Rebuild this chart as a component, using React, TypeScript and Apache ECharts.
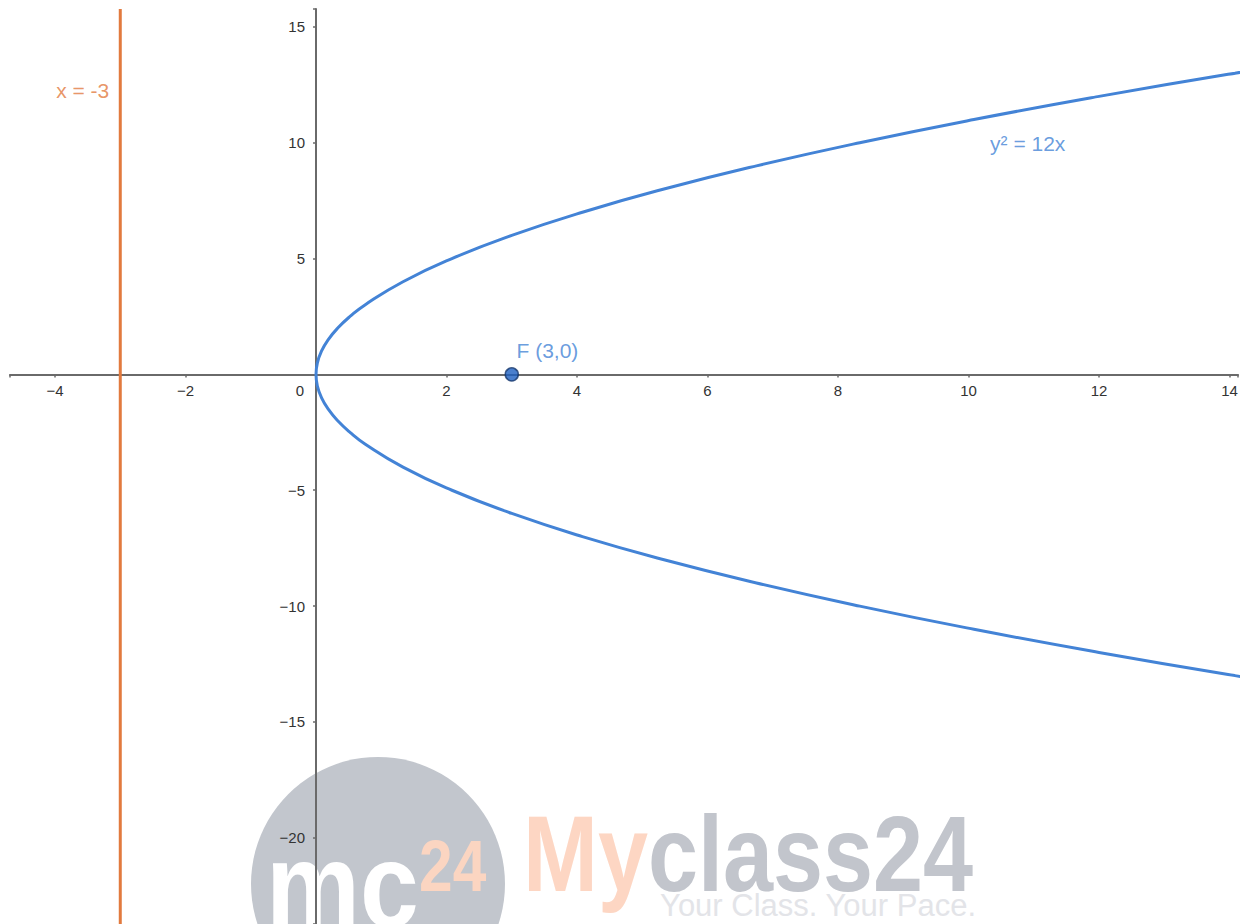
import React, { useEffect, useRef } from "react";
import * as echarts from "echarts";

// Axis extents
const xMin = -4.69;
const xMax = 14.13;
const yMin = -23.72;
const yMax = 15.77;
const xStep = 2;
const yStep = 5;

// Parabola y² = 12x read as points (x, y)
const parabolaX = [16.333, 14.083, 12, 10.083, 8.333, 6.75, 5.333, 4.083, 3, 2.083, 1.333, 0.75, 0.521, 0.333, 0.1875, 0.0833, 0.0208, 0, 0.0208, 0.0833, 0.1875, 0.333, 0.521, 0.75, 1.333, 2.083, 3, 4.083, 5.333, 6.75, 8.333, 10.083, 12, 14.083, 16.333];
const parabolaY = [-14, -13, -12, -11, -10, -9, -8, -7, -6, -5, -4, -3, -2.5, -2, -1.5, -1, -0.5, 0, 0.5, 1, 1.5, 2, 2.5, 3, 4, 5, 6, 7, 8, 9, 10, 11, 12, 13, 14];

// Directrix x = -3
const directrixX = [-3, -3];
const directrixY = [yMin, yMax];

// Focus
const focus = [3, 0];

// Annotation texts and anchors (data coordinates)
const directrixText = "x = -3";
const directrixAnchor = [-3, 12.27];
const curveText = "y² = 12x";
const curveAnchor = [10.33, 9.98];
const focusText = "F (3,0)";

const BLUE = "#4383d6";
const ORANGE = "#e27a3e";
const AXIS = "#6a6a6a";
const LABEL = "#333333";
const FONT = "Liberation Sans, Arial, sans-serif";
const WFONT = "Liberation Sans, Arial, sans-serif";

const W = 1248;
const H = 924;
const G = { left: 10, right: 10, top: 9, bottom: 0 };

const fmtNum = (v: number) => (v < 0 ? "\u2212" + Math.abs(v) : String(v));

export default function App() {
  const ref = useRef<HTMLDivElement>(null);
  useEffect(() => {
    if (!ref.current) return;
    const chart = echarts.init(ref.current, null, { renderer: "svg" });
    const curveData = parabolaX.map((x, i) => [x, parabolaY[i]]);
    const directrixData = directrixX.map((x, i) => [x, directrixY[i]]);
    const gw = W - G.left - G.right;
    const gh = H - G.top - G.bottom;
    // place the axes through the origin
    const yAxisOffset = -((0 - xMin) / (xMax - xMin)) * gw;
    const xAxisOffset = -((0 - yMin) / (yMax - yMin)) * gh;
    chart.setOption({
      animation: false,
      backgroundColor: "#ffffff",
      grid: { ...G, containLabel: false, outerBoundsMode: "none" },
      xAxis: {
        type: "value",
        position: "bottom",
        offset: xAxisOffset,
        min: xMin,
        max: xMax,
        minInterval: xStep,
        maxInterval: xStep,
        splitLine: { show: false },
        axisLine: { show: true, onZero: false, lineStyle: { color: AXIS, width: 2 } },
        axisTick: { show: true, length: 3, lineStyle: { color: AXIS, width: 1.5 } },
        axisLabel: {
          margin: 9,
          color: LABEL,
          fontSize: 15,
          fontFamily: FONT,
          formatter: (v: number) => {
            if (Math.abs(v / xStep - Math.round(v / xStep)) > 1e-6) return "";
            if (Math.abs(v) < 1e-9) return "{z|0}";
            return fmtNum(v);
          },
          rich: { z: { fontSize: 15, fontFamily: FONT, color: LABEL, padding: [0, 32, 0, 0] } },
        },
      },
      yAxis: {
        type: "value",
        position: "left",
        offset: yAxisOffset,
        min: yMin,
        max: yMax,
        minInterval: yStep,
        maxInterval: yStep,
        splitLine: { show: false },
        axisLine: { show: true, onZero: false, lineStyle: { color: AXIS, width: 2 } },
        axisTick: { show: true, length: 3, lineStyle: { color: AXIS, width: 1.5 } },
        axisLabel: {
          margin: 11,
          color: LABEL,
          fontSize: 15,
          fontFamily: FONT,
          formatter: (v: number) => {
            if (Math.abs(v / yStep - Math.round(v / yStep)) > 1e-6) return "";
            if (Math.abs(v) < 1e-9) return "";
            return fmtNum(v);
          },
        },
      },
      graphic: [
        {
          type: "circle",
          z: -20,
          silent: true,
          shape: { cx: 378, cy: 884, r: 127 },
          style: { fill: "#c2c6cd" },
        },
        {
          type: "text",
          z: -19,
          silent: true,
          x: 266,
          y: 886,
          scaleX: 0.88,
          style: { text: "mc", fill: "#ffffff", font: "bold 120px " + WFONT, verticalAlign: "middle" },
        },
        {
          type: "text",
          z: -19,
          silent: true,
          x: 419,
          y: 866,
          scaleX: 0.84,
          style: { text: "24", fill: "#fbd5c1", font: "bold 72px " + WFONT, verticalAlign: "middle" },
        },
        {
          type: "text",
          z: -19,
          silent: true,
          x: 523,
          y: 854,
          scaleX: 0.833,
          style: { text: "My", fill: "#fdd6c3", font: "bold 108px " + WFONT, verticalAlign: "middle" },
        },
        {
          type: "text",
          z: -19,
          silent: true,
          x: 648,
          y: 854,
          scaleX: 0.833,
          style: { text: "class24", fill: "#c2c5cc", font: "bold 108px " + WFONT, verticalAlign: "middle" },
        },
        {
          type: "text",
          z: -19,
          silent: true,
          x: 976,
          y: 905,
          style: { text: "Your Class. Your Pace.", fill: "#e3e4e8", font: "31px " + WFONT, align: "right", verticalAlign: "middle" },
        },
      ],
      series: [
        {
          type: "line",
          data: directrixData,
          showSymbol: false,
          silent: true,
          lineStyle: { color: ORANGE, width: 3 },
          z: 3,
        },
        {
          type: "line",
          data: curveData,
          smooth: true,
          showSymbol: false,
          silent: true,
          clip: true,
          lineStyle: { color: BLUE, width: 3 },
          z: 4,
        },
        {
          type: "scatter",
          data: [directrixAnchor],
          symbolSize: 0,
          silent: true,
          label: { show: true, position: "left", distance: 11, formatter: directrixText, color: ORANGE, fontSize: 21, fontFamily: FONT },
          z: 5,
        },
        {
          type: "scatter",
          data: [curveAnchor],
          symbolSize: 0,
          silent: true,
          label: { show: true, position: "right", distance: 0, formatter: curveText, color: BLUE, fontSize: 21, fontFamily: FONT },
          z: 5,
        },
        {
          type: "scatter",
          data: [focus],
          symbol: "circle",
          symbolSize: 13,
          silent: true,
          itemStyle: { color: "#1d5fc0", borderColor: "#14366b", borderWidth: 1.5 },
          label: { show: true, position: [12, -27], formatter: focusText, color: BLUE, fontSize: 21, fontFamily: FONT },
          z: 6,
        },
      ],
    });
    return () => chart.dispose();
  }, []);
  return <div ref={ref} style={{ position: "fixed", left: 0, top: 0, width: W, height: H, background: "#fff" }} />;
}
